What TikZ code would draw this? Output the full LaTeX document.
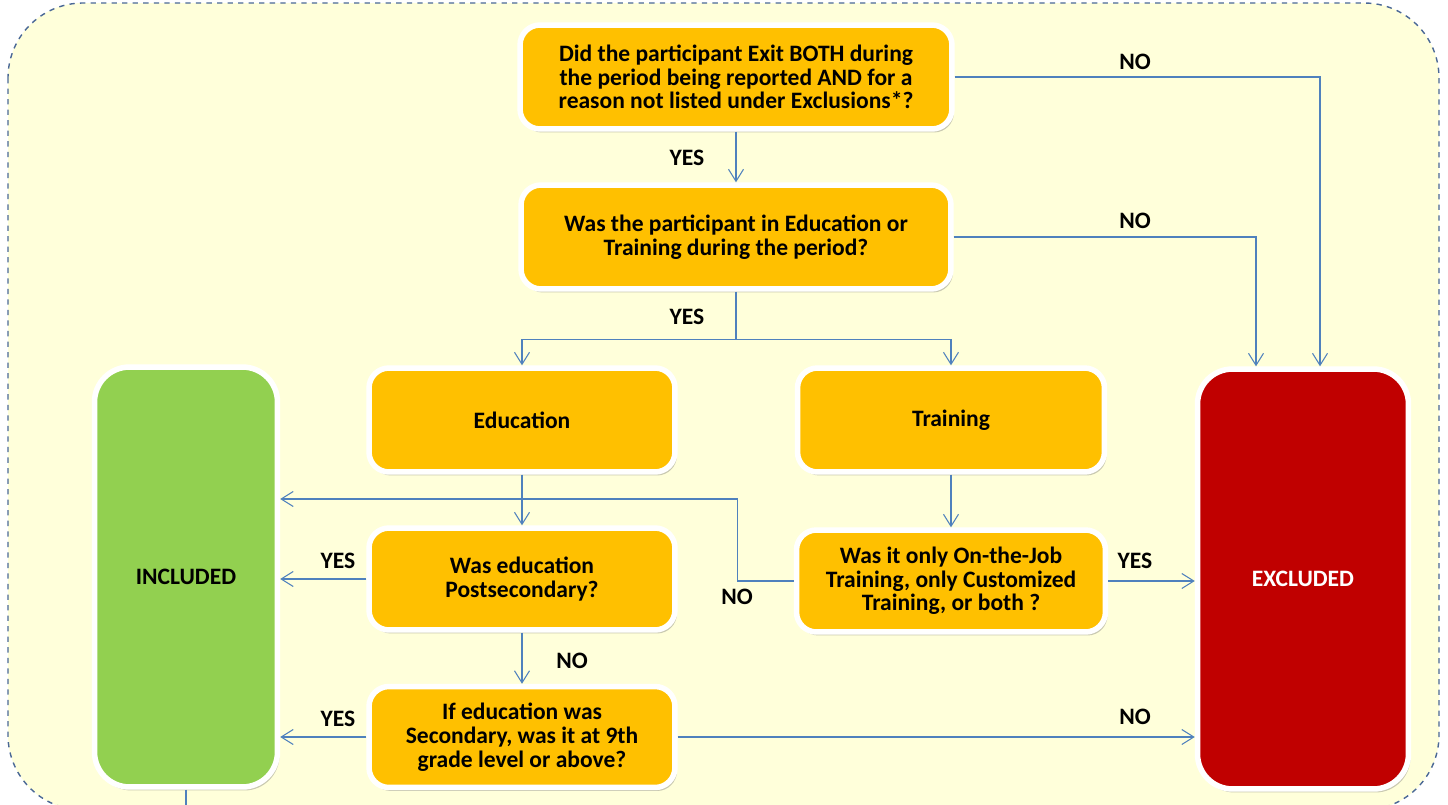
\documentclass[tikz,border=0pt]{standalone}
\usepackage{fontspec}
\setmainfont{Carlito}
\usetikzlibrary{arrows.meta,calc,shadows}
\definecolor{bgyellow}{RGB}{255,255,218}
\definecolor{framedash}{RGB}{74,104,150}
\definecolor{qorange}{RGB}{255,192,0}
\definecolor{incgreen}{RGB}{146,208,80}
\definecolor{exred}{RGB}{192,0,0}
\definecolor{linkblue}{RGB}{79,129,189}
\tikzset{
	question/.style={rectangle, rounded corners=0.4cm, fill=qorange, draw=white, line width=0.11cm,
		drop shadow={shadow xshift=0.4mm, shadow yshift=-0.7mm, opacity=0.35, fill=black!60},
		align=center, font=\fontsize{13.4}{13.5}\selectfont\bfseries, text=black},
	outcome/.style={rectangle, rounded corners=0.7cm, draw=white, line width=0.11cm,
		drop shadow={shadow xshift=0.4mm, shadow yshift=-0.7mm, opacity=0.35, fill=black!60},
		minimum width=3.66cm, minimum height=8.4cm, font=\fontsize{13.4}{13.5}\selectfont\bfseries},
	answer/.style={font=\fontsize{13.4}{13.5}\selectfont\bfseries, text=black},
	link/.style={draw=linkblue, line width=0.6pt, -{Straight Barb[length=2.4mm,width=3mm]}},
}

\begin{document}
\begin{tikzpicture}[x=0.02cm, y=-0.02cm]
			%%%%% START %%%%%
			
			\useasboundingbox (0, 0) rectangle (1448, 805);
			\clip (0, 0) rectangle (1448, 805);
			\draw[framedash, fill=bgyellow, dashed, line width=0.8pt, rounded corners=1.5cm] (8, 3) rectangle (1439, 810);
			
			\node[question, minimum width=8.64cm, minimum height=2.08cm] (exit) at (736, 77)
				{Did the participant Exit BOTH during\\the period being reported AND for a\\reason not listed under Exclusions*?};
			\node[question, minimum width=8.6cm, minimum height=2.08cm] (period) at (736, 237)
				{Was the participant in Education or\\Training during the period?};
			
			\node[question, minimum width=6.12cm, minimum height=2.08cm] (edu) at (522, 420) {Education};
			\node[question, minimum width=6.14cm, minimum height=2.08cm] (trn) at (951, 420) {Training};
			
			\node[question, minimum width=6.12cm, minimum height=2.04cm] (postsec) at (522, 579)
				{Was education\\Postsecondary?};
			\node[question, minimum width=6.18cm, minimum height=2.04cm] (ojt) at (951, 581)
				{Was it only On-the-Job\\Training, only Customized\\Training, or both ?};
			\node[question, minimum width=6.12cm, minimum height=2.02cm] (sec) at (522, 737)
				{If education was\\Secondary, was it at 9th\\grade level or above?};
			
			\node[outcome, fill=incgreen, text=black] (inc) at (186, 577) {INCLUDED};
			\node[outcome, fill=exred, text=white, minimum width=4.22cm] (ex) at (1303, 579) {EXCLUDED};
			
			\coordinate (split) at ($(period.south)+(0, 48)$);
			\coordinate (incTop) at ($(inc.east)+(0, -78)$);
			
			\draw[link] (exit.east) -| ($(ex.north)+(17, 0)$);
			\draw[link] (period.east) -| ($(ex.north)+(-47, 0)$);
			\draw[link] (exit.south) -- (period.north);
			\draw[draw=linkblue, line width=0.6pt] (period.south) -- (split);
			\draw[link] (split) -| (edu.north);
			\draw[link] (split) -| (trn.north);
			\draw[link] (edu.south) -- (postsec.north);
			\draw[link] (trn.south) -- (ojt.north);
			\draw[link] (ojt.west) -- ++(-56, 0) |- (incTop);
			\draw[link] (ojt.east) -- (ex.west |- ojt.east);
			\draw[link] (postsec.west) -- (inc.east |- postsec.west);
			\draw[link] (postsec.south) -- (sec.north);
			\draw[link] (sec.west) -- (inc.east |- sec.west);
			\draw[link] (sec.east) -- (ex.west |- sec.east);
			\draw[draw=linkblue, line width=0.6pt] (inc.south) -- ++(0, 30);
			
			\node[answer] (noA) at (1135, 62) {NO};
			\node[answer] (noB) at (1135, 221) {NO};
			\node[answer] (yesA) at (687, 158) {YES};
			\node[answer] (yesB) at (687, 317) {YES};
			\node[answer] (yesC) at (338, 561) {YES};
			\node[answer] (noC) at (737, 597) {NO};
			\node[answer] (yesD) at (1135, 561) {YES};
			\node[answer] (noD) at (572, 661) {NO};
			\node[answer] (yesE) at (338, 719) {YES};
			\node[answer] (noE) at (1135, 717) {NO};
			
			%%%%% END %%%%%
		\end{tikzpicture}
\end{document}
